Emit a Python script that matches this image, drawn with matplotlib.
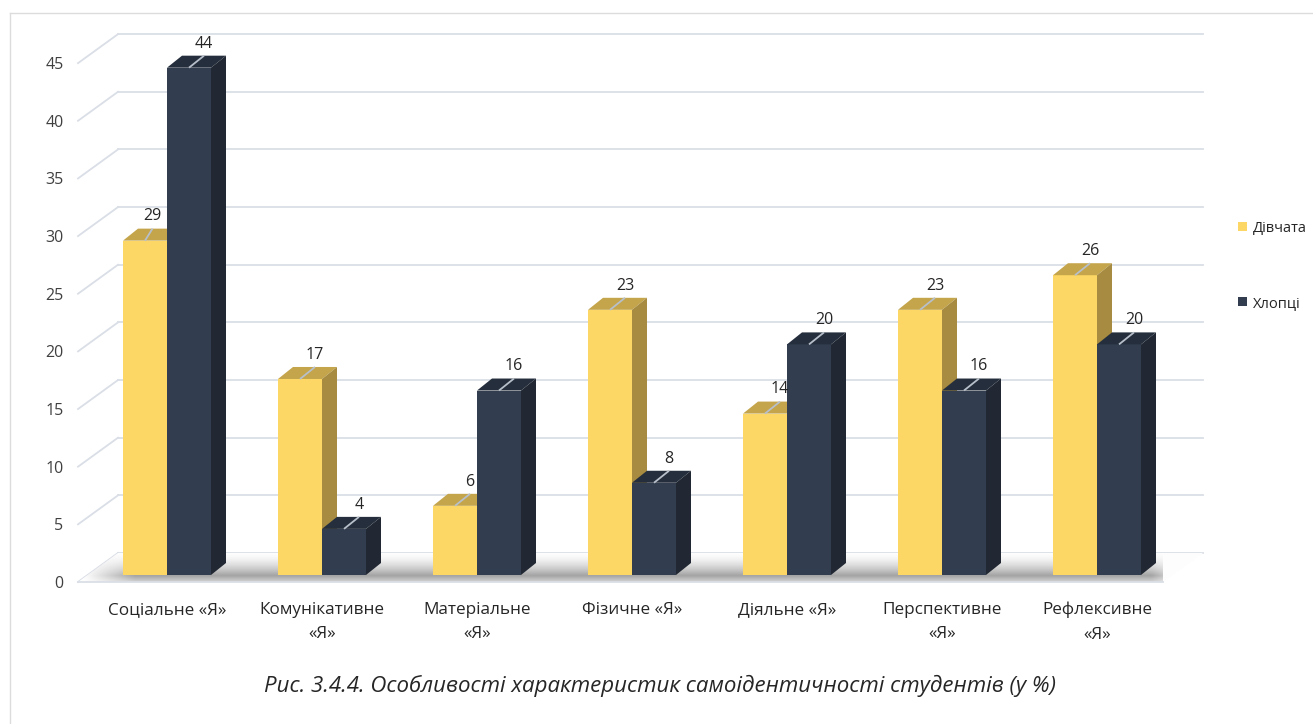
import numpy as np
import matplotlib
matplotlib.use('Agg')
import matplotlib.pyplot as plt
from matplotlib.patches import Polygon, Patch
from matplotlib.lines import Line2D

# ---------------- data ----------------
categories = ['Соціальне «Я»', 'Комунікативне\n«Я»', 'Матеріальне\n«Я»', 'Фізичне «Я»',
              'Діяльне «Я»', 'Перспективне\n«Я»', 'Рефлексивне\n«Я»']
girls = [29, 17, 6, 23, 14, 23, 26]
boys = [44, 4, 16, 8, 20, 16, 20]
series_names = ['Дівчата', 'Хлопці']
yticks = [0, 5, 10, 15, 20, 25, 30, 35, 40, 45]
caption = 'Рис. 3.4.4. Особливості характеристик самоідентичності студентів (у %)'

# ---------------- styles ----------------
FONT = ['Open Sans', 'DejaVu Sans']
plt.rcParams['font.family'] = FONT
colors = {
    'girls': ('#FDD765', '#C4A54B', '#A68B40'),   # front, top, side
    'boys': ('#323D50', '#252E3C', '#212833'),
}
GRID = '#dadee6'
TXT = '#404040'
# label nudges (px) for labels that would collide with a neighbouring bar
label_nudge = {('girls', 0): -7.5}

W, H = 1313, 724
fig = plt.figure(figsize=(W / 100, H / 100), dpi=100)

# pixel geometry of the pseudo-3D plot
PX_CAT = 155.0
PX_VAL = 11.53
X0_PX, Y0_PX = 167.0, 575.0
ax_l, ax_r, ax_t, ax_b = 78, 1163, 33, 583
xmin = (ax_l - X0_PX) / PX_CAT
xmax = (ax_r - X0_PX) / PX_CAT
ymin = (Y0_PX - ax_b) / PX_VAL
ymax = (Y0_PX - ax_t) / PX_VAL
ax = fig.add_axes([ax_l / W, (H - ax_b) / H, (ax_r - ax_l) / W, (ax_b - ax_t) / H])
for s in ax.spines.values():
    s.set_visible(False)


def px2d(dx, dy):
    return dx / PX_CAT, dy / PX_VAL


fx, fy = px2d(-9.4, -7.0)     # front plane offset
wx, wy = px2d(30.6, 22.0)     # back wall offset
bx, by = px2d(15.0, 12.0)     # bar depth
XL = xmin - fx
XR = xmax - fx

# gridlines (back wall + left diagonals)
for v in yticks:
    ax.plot([XL + wx, XR + wx], [v + wy, v + wy], color=GRID, lw=1.3, zorder=1, clip_on=False)
    ax.plot([XL + fx, XL + wx], [v + fy, v + wy], color=GRID, lw=1.3, zorder=1, clip_on=False)

# floor with soft shadow
floor = [(XL + fx, fy), (XR + fx, fy), (XR + wx, wy), (XL + wx, wy)]
floor_poly = Polygon(floor, closed=True, facecolor='#fdfdfd', edgecolor='none', zorder=1.2, clip_on=False)
ax.add_patch(floor_poly)
ny, nx = 80, 500
yy = np.linspace(0, 1, ny)[:, None]
xx = np.linspace(0, 1, nx)[None, :]
peak = 0.22
alpha_y = np.where(yy < peak, 0.3 + 0.35 * yy / peak, 0.65 * (1 - (yy - peak) / (1 - peak)) ** 1.6)
alpha_x = np.clip((xx - 0.005) / 0.045, 0, 1) * np.clip((0.985 - xx) / 0.03, 0, 1)
img = np.zeros((ny, nx, 4))
img[..., :3] = 0.45
img[..., 3] = alpha_y * alpha_x
im = ax.imshow(img, extent=[XL + fx, XR + wx, fy, wy], origin='lower', aspect='auto',
               zorder=1.3, interpolation='bilinear')
im.set_clip_path(floor_poly)
ax.plot([XL + fx, XR + fx], [fy, fy], color=GRID, lw=1.3, zorder=1.4, clip_on=False)
ax.set_xlim(xmin, xmax)
ax.set_ylim(ymin, ymax)

# bars
bw = 44.0 / PX_CAT
xpos = np.arange(len(categories))
for k, (vals, key, off) in enumerate([(girls, 'girls', -bw), (boys, 'boys', 0.0)]):
    front, top, side = colors[key]
    z = 3 + k
    ax.bar(xpos + off, vals, width=bw, align='edge', color=front, zorder=z, linewidth=0)
    for i, v in enumerate(vals):
        x0 = xpos[i] + off
        x1 = x0 + bw
        ax.add_patch(Polygon([(x0, v), (x1, v), (x1 + bx, v + by), (x0 + bx, v + by)],
                             closed=True, facecolor=top, edgecolor='none', zorder=z))
        ax.add_patch(Polygon([(x1, 0), (x1 + bx, by), (x1 + bx, v + by), (x1, v)],
                             closed=True, facecolor=side, edgecolor='none', zorder=z))
        xc = (x0 + x1) / 2
        nud = label_nudge.get((key, i), 0.0) / PX_CAT
        ax.plot([xc, xc + bx + nud], [v, v + by], color='#b7bfca', lw=1.3, zorder=z + 0.5,
                solid_capstyle='butt')
        ax.annotate(str(v), xy=(xc + bx + nud, v + by), xytext=(0, 3), textcoords='offset points',
                    ha='center', va='bottom', fontsize=11.5, color='#262626', zorder=10)

# axes ticks
ax.set_yticks([v + fy for v in yticks])
ax.set_yticklabels([str(v) for v in yticks], fontsize=11.5, color=TXT)
ax.tick_params(axis='y', length=0, pad=10.5)
ax.set_xticks(xpos)
ax.set_xticklabels(categories, fontsize=12.3, color='#262626')
ax.tick_params(axis='x', length=0, pad=13.5)
for t in ax.get_xticklabels():
    t.set_linespacing(1.7)

# legend
handles = [Patch(facecolor=colors['girls'][0], edgecolor='none'),
           Patch(facecolor=colors['boys'][0], edgecolor='none')]
fig.legend(handles, series_names, loc='upper left', bbox_to_anchor=(1238 / W, 1 - 221 / H),
           frameon=False, fontsize=10.5, handlelength=0.6, handleheight=0.6,
           handletextpad=0.4, labelspacing=4.1, labelcolor='#262626',
           borderaxespad=0, borderpad=0)

# outer border
fig.add_artist(Line2D([10 / W, 10 / W], [0, 1 - 13 / H], color='#dcdcdc', lw=1))
fig.add_artist(Line2D([10 / W, 1], [1 - 13 / H, 1 - 13 / H], color='#dcdcdc', lw=1))

# caption
fig.text(660 / W, 1 - 686 / H, caption, ha='center', va='center', fontsize=16,
         style='italic', color='#262626')

fig.savefig('out.png', dpi=100)
